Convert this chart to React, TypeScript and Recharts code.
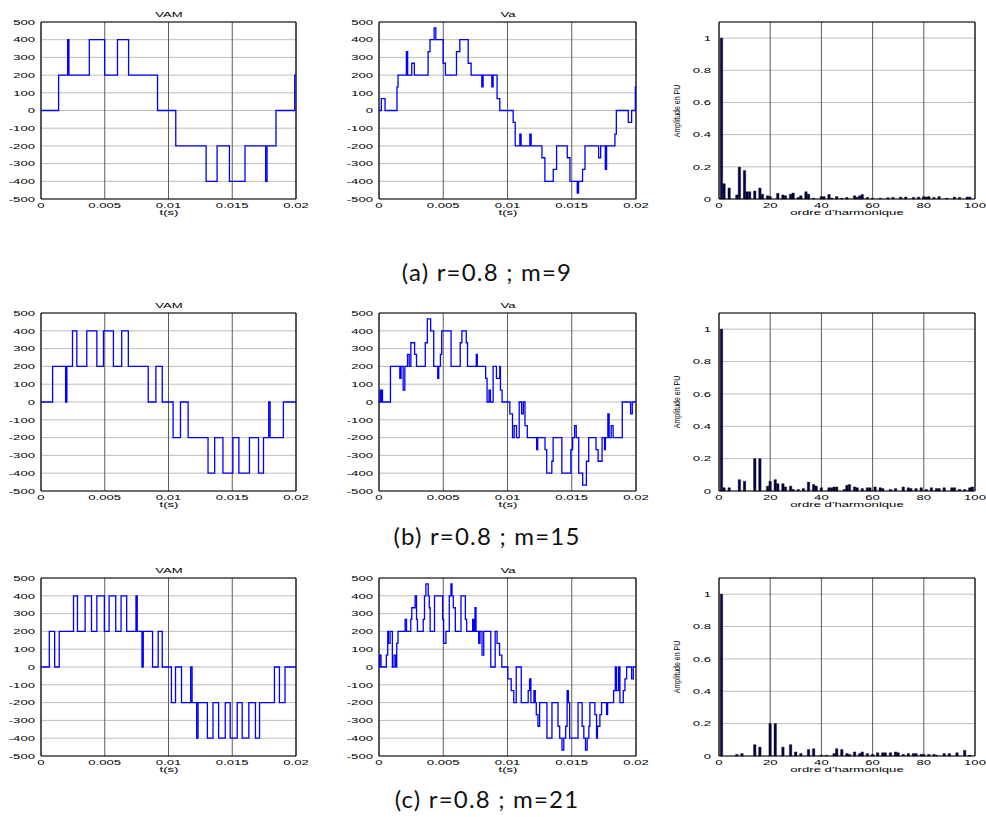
import React from 'react'
import { LineChart, Line, BarChart, Bar, XAxis, YAxis, CartesianGrid, ReferenceArea } from 'recharts'

// time axis in ms -> converted to s when building rows
const T_TICKS = [0, 0.005, 0.01, 0.015, 0.02]
const V_TICKS = [-500, -400, -300, -200, -100, 0, 100, 200, 300, 400, 500]
const H_TICKS = [0, 20, 40, 60, 80, 100]
const A_TICKS = [0, 0.2, 0.4, 0.6, 0.8, 1]

const CAPTIONS = ['(a) r=0.8 ; m=9', '(b) r=0.8 ; m=15', '(c) r=0.8 ; m=21']

// [t (ms), level (V)] step points
const vamA: [number, number][] = [
  [0, 0], [1.38, 200], [2.09, 400], [2.19, 200], [3.79, 400], [4.99, 200], [6.0, 400], [6.87, 200],
  [9.14, 0], [10.57, -200], [12.95, -400], [13.81, -200], [14.78, -400], [16.0, -200], [17.62, -400],
  [17.73, -200], [18.43, 0], [19.9, 200], [20, 200],
]
const vaA: [number, number][] = [
  [0, 0], [0.18, 67], [0.47, 0], [1.4, 133], [1.48, 200], [2.13, 333], [2.23, 200], [2.55, 267], [2.75, 200],
  [3.82, 333], [3.97, 400], [4.29, 467], [4.42, 400], [4.99, 267], [5.17, 200], [6.03, 333], [6.29, 400],
  [6.94, 267], [7.17, 200], [8.0, 133], [8.1, 200], [8.78, 133], [8.88, 200], [9.19, 67], [9.4, 0],
  [10.44, -67], [10.6, -200], [10.96, -133], [11.06, -200], [11.74, -133], [11.84, -200], [12.68, -267],
  [12.91, -400], [13.56, -333], [13.82, -200], [14.65, -267], [14.86, -400], [15.43, -467], [15.53, -400],
  [15.84, -333], [16.03, -200], [17.09, -267], [17.25, -200], [17.61, -333], [17.71, -200], [18.36, -133],
  [18.47, 0], [19.4, -67], [19.66, 0], [19.95, 133], [20, 133],
]
const vamB: [number, number][] = [
  [0, 0], [0.91, 200], [1.93, 0], [2.03, 200], [2.47, 400], [2.81, 200], [3.59, 400], [4.38, 200], [4.9, 400],
  [5.68, 200], [6.33, 400], [6.85, 200], [8.41, 0], [9.01, 200], [9.51, 0], [10.36, -200], [10.94, 0],
  [11.54, -200], [13.1, -400], [13.62, -200], [14.27, -400], [15.05, -200], [15.52, -400], [16.35, -200],
  [17.06, -400], [17.45, -200], [17.86, 0], [17.97, -200], [19.01, 0], [20, 0],
]
const vaB: [number, number][] = [
  [0, 0], [0.08, 67], [0.15, 0], [0.2, 67], [0.27, 0], [0.89, 200], [1.62, 133], [1.72, 200], [1.88, 67],
  [2.01, 200], [2.22, 267], [2.35, 200], [2.48, 333], [2.77, 267], [2.92, 200], [3.6, 333], [3.76, 467],
  [4.02, 400], [4.26, 200], [4.57, 133], [4.65, 200], [4.78, 267], [4.88, 400], [5.61, 200], [6.32, 333],
  [6.45, 400], [6.79, 333], [6.89, 200], [7.57, 267], [7.65, 200], [8.3, 133], [8.41, 0], [8.56, 67],
  [8.67, 0], [8.88, 200], [9.14, 133], [9.4, 200], [9.45, 67], [9.58, 0], [10.18, -67], [10.39, -200],
  [10.52, -133], [10.7, -200], [10.91, 0], [11.1, -67], [11.23, 0], [11.36, -133], [11.54, -200],
  [12.27, -267], [12.35, -200], [12.92, -267], [13.05, -400], [13.45, -333], [13.55, -200], [14.23, -400],
  [14.93, -267], [15.07, -200], [15.22, -133], [15.35, -200], [15.54, -400], [15.85, -467], [16.14, -333],
  [16.32, -200], [16.89, -267], [17.05, -333], [17.36, -200], [17.55, -267], [17.62, -200], [17.81, -67],
  [17.91, -200], [18.07, -133], [18.22, -200], [18.93, 0], [19.58, -67], [19.71, 0], [20, 0],
]
const vamC: [number, number][] = [
  [0, 0], [0.65, 200], [1.07, 0], [1.43, 200], [2.55, 400], [2.86, 200], [3.46, 400], [3.96, 200], [4.38, 400],
  [4.97, 200], [5.34, 400], [5.86, 200], [6.28, 400], [6.72, 200], [7.45, 400], [7.55, 200], [7.92, 0],
  [8.02, 200], [8.75, 0], [9.19, 200], [9.51, 0], [10.23, -200], [10.55, 0], [11.02, -200], [11.74, 0],
  [11.85, -200], [12.21, -400], [12.32, -200], [13.05, -400], [13.49, -200], [13.93, -400], [14.45, -200],
  [14.84, -400], [15.39, -200], [15.78, -400], [16.3, -200], [16.82, -400], [17.14, -200], [18.31, 0],
  [18.7, -200], [19.14, 0], [20, 0],
]
const vaC: [number, number][] = [
  [0, 0], [0.05, 67], [0.16, 0], [0.57, 67], [0.68, 200], [0.73, 133], [0.86, 200], [1.04, 0], [1.17, 67],
  [1.3, 0], [1.38, 133], [1.48, 200], [2.03, 267], [2.14, 200], [2.47, 267], [2.55, 333], [2.81, 400],
  [2.92, 267], [2.99, 200], [3.44, 267], [3.54, 400], [3.65, 467], [3.83, 400], [3.91, 333], [3.98, 200],
  [4.32, 400], [4.95, 267], [5.03, 133], [5.21, 200], [5.47, 400], [5.6, 467], [5.68, 400], [5.78, 333],
  [5.94, 200], [6.38, 400], [6.72, 267], [6.82, 200], [7.29, 267], [7.37, 200], [7.47, 333], [7.55, 200],
  [7.76, 133], [7.86, 200], [8.02, 67], [8.15, 200], [8.7, 0], [9.04, 200], [9.19, 133], [9.38, 67],
  [9.56, 0], [10.03, -67], [10.29, -133], [10.49, -200], [10.68, 0], [11.07, -200], [11.61, -133],
  [11.72, -67], [11.82, -200], [12.06, -133], [12.16, -200], [12.24, -267], [12.37, -333], [12.5, -200],
  [13.07, -400], [13.46, -200], [13.93, -333], [14.06, -400], [14.24, -467], [14.38, -400], [14.53, -333],
  [14.64, -133], [14.74, -200], [14.84, -400], [15.49, -200], [15.81, -333], [15.94, -400], [16.07, -467],
  [16.2, -400], [16.33, -333], [16.41, -200], [16.8, -267], [16.93, -400], [17.0, -333], [17.19, -267],
  [17.32, -200], [17.71, -267], [17.79, -200], [18.26, -133], [18.39, 0], [18.49, -133], [18.65, 0],
  [18.75, -200], [19.01, -133], [19.14, -67], [19.27, 0], [19.66, -67], [19.79, 0], [20, 0],
]

// [harmonic order, amplitude (pu)]
const harmA: [number, number][] = [
  [1, 1], [2, 0.095], [4, 0.068], [7, 0.025], [8, 0.198], [10, 0.177], [11, 0.045], [12, 0.045], [14, 0.05],
  [16, 0.068], [17, 0.03], [19, 0.02], [20, 0.015], [23, 0.035], [25, 0.025], [26, 0.02], [28, 0.03],
  [29, 0.037], [31, 0.01], [32, 0.02], [34, 0.045], [35, 0.03], [37, 0.005], [40, 0.015], [41, 0.015],
  [43, 0.028], [44, 0.005], [46, 0.015], [48, 0.005], [50, 0.01], [53, 0.02], [54, 0.01], [55, 0.02],
  [56, 0.028], [58, 0.01], [60, 0.005], [63, 0.005], [66, 0.008], [68, 0.01], [71, 0.012], [73, 0.012],
  [76, 0.01], [78, 0.012], [80, 0.015], [81, 0.012], [82, 0.015], [84, 0.01], [86, 0.015], [89, 0.005],
  [92, 0.012], [94, 0.01], [97, 0.012], [98, 0.012],
]
const harmB: [number, number][] = [
  [1, 1], [2, 0.02], [4, 0.02], [8, 0.07], [10, 0.06], [14, 0.2], [16, 0.2], [19, 0.03], [20, 0.06], [22, 0.07],
  [23, 0.045], [25, 0.045], [26, 0.025], [28, 0.03], [29, 0.01], [31, 0.01], [33, 0.015], [35, 0.055],
  [37, 0.04], [38, 0.03], [40, 0.02], [43, 0.02], [44, 0.02], [45, 0.025], [46, 0.025], [49, 0.01],
  [50, 0.035], [51, 0.04], [53, 0.025], [54, 0.02], [56, 0.015], [58, 0.02], [59, 0.02], [61, 0.025],
  [63, 0.02], [64, 0.015], [67, 0.01], [69, 0.015], [72, 0.025], [74, 0.02], [75, 0.015], [77, 0.015],
  [79, 0.02], [81, 0.01], [83, 0.02], [85, 0.015], [86, 0.015], [88, 0.02], [91, 0.02], [92, 0.02],
  [94, 0.01], [96, 0.01], [98, 0.02], [99, 0.025],
]
const harmC: [number, number][] = [
  [1, 1], [7, 0.01], [9, 0.015], [14, 0.07], [16, 0.055], [20, 0.2], [22, 0.2], [25, 0.055], [28, 0.07],
  [30, 0.025], [32, 0.015], [35, 0.04], [37, 0.045], [40, 0.005], [42, 0.005], [45, 0.015], [46, 0.045],
  [48, 0.04], [50, 0.015], [51, 0.01], [53, 0.025], [55, 0.015], [56, 0.025], [58, 0.015], [60, 0.01],
  [62, 0.02], [64, 0.02], [65, 0.02], [67, 0.02], [69, 0.025], [70, 0.02], [72, 0.01], [74, 0.015],
  [76, 0.015], [77, 0.015], [79, 0.01], [80, 0.01], [82, 0.01], [84, 0.01], [85, 0.005], [88, 0.015],
  [90, 0.015], [93, 0.02], [96, 0.035], [98, 0.005],
]

// layout of the axes boxes on the page
const COLS = [{ left: 41, width: 255 }, { left: 379, width: 257 }, { left: 719, width: 256 }]
const ROWS = [{ top: 22, height: 177 }, { top: 313, height: 178 }, { top: 578, height: 178 }]
const PL = 50, PT = 6, PR = 24, PB = 26
const FONT = "'Liberation Sans', Arial, Helvetica, sans-serif"

function TickText(props: any) {
  const { x, y, payload, textAnchor, side } = props
  const dy = side === 'left' ? 2.7 : 5.5
  return (
    <text transform={`translate(${x},${y + dy}) scale(1.75,1)`} textAnchor={textAnchor}
      fontSize={7.5} fontFamily={FONT} fill="#000">{payload.value}</text>
  )
}

function Stretch({ x, y, children }: { x: number; y: number; children: React.ReactNode }) {
  return (
    <div style={{
      position: 'absolute', left: x, top: y, fontSize: 7.5, lineHeight: 1, fontFamily: FONT,
      whiteSpace: 'nowrap', color: '#000', transform: 'translateX(-50%) scaleX(1.75)',
    }}>{children}</div>
  )
}

function WavePanel({ col, row, title, pts }: { col: number; row: number; title: string; pts: [number, number][] }) {
  const data = pts.map(([ms, v]) => ({ t: ms / 1000, v }))
  const c = COLS[col], r = ROWS[row]
  return (
    <>
      <div style={{ position: 'absolute', left: c.left - PL, top: r.top - PT }}>
        <LineChart width={PL + c.width + PR} height={PT + r.height + PB} data={data}
          margin={{ top: PT, right: PR, bottom: 0, left: 0 }}>
          <CartesianGrid vertical={false} stroke="#bdbdbd" />
          <CartesianGrid horizontal={false} stroke="#5c5c5c" />
          <XAxis type="number" dataKey="t" domain={[0, 0.02]} ticks={T_TICKS} interval={0} height={PB}
            axisLine={false} tickLine={false} tickSize={2} tickMargin={1}
            tick={(p: any) => <TickText {...p} side="bottom" />} />
          <YAxis type="number" domain={[-500, 500]} ticks={V_TICKS} interval={0} width={PL}
            axisLine={false} tickLine={false} tickSize={4} tickMargin={2}
            tick={(p: any) => <TickText {...p} side="left" />} />
          <ReferenceArea x1={0} x2={0.02} y1={-500} y2={500} fill="none" stroke="#000" strokeWidth={1} />
          <Line type="stepAfter" dataKey="v" stroke="#0000ff" strokeWidth={1.3} dot={false} isAnimationActive={false} />
        </LineChart>
      </div>
      <Stretch x={c.left + c.width / 2} y={r.top - 11}>{title}</Stretch>
      <Stretch x={c.left + c.width / 2} y={r.top + r.height + 10}>t(s)</Stretch>
    </>
  )
}

function HarmPanel({ row, pts }: { row: number; pts: [number, number][] }) {
  const data = pts.map(([h, a]) => ({ h, a }))
  const c = COLS[2], r = ROWS[row]
  return (
    <>
      <div style={{ position: 'absolute', left: c.left - PL, top: r.top - PT }}>
        <BarChart width={PL + c.width + PR} height={PT + r.height + PB} data={data}
          margin={{ top: PT, right: PR, bottom: 0, left: 0 }}>
          <CartesianGrid vertical={false} stroke="#bdbdbd" />
          <CartesianGrid horizontal={false} stroke="#5c5c5c" />
          <XAxis type="number" dataKey="h" domain={[0, 100]} ticks={H_TICKS} interval={0} height={PB}
            axisLine={false} tickLine={false} tickSize={2} tickMargin={1}
            tick={(p: any) => <TickText {...p} side="bottom" />} />
          <YAxis type="number" domain={[0, 1.1]} ticks={A_TICKS} interval={0} width={PL}
            axisLine={false} tickLine={false} tickSize={4} tickMargin={4}
            tick={(p: any) => <TickText {...p} side="left" />} />
          <ReferenceArea x1={0} x2={100} y1={0} y2={1.1} fill="none" stroke="#000" strokeWidth={1} />
          <Bar dataKey="a" fill="#00004a" stroke="#000" strokeWidth={0.4} barSize={2.4} isAnimationActive={false} />
        </BarChart>
      </div>
      <div style={{
        position: 'absolute', left: c.left - 42, top: r.top + r.height / 2, fontSize: 7, lineHeight: 1,
        fontFamily: FONT, whiteSpace: 'nowrap', color: '#000',
        transform: 'translate(-50%,-50%) scaleX(1.35) rotate(-90deg)',
      }}>Amplitude en PU</div>
      <Stretch x={c.left + c.width / 2} y={r.top + r.height + 10}>ordre d'harmonique</Stretch>
    </>
  )
}

const CAPTION_TOPS = [260, 524, 787]

export default function App() {
  const waves = [[vamA, vaA], [vamB, vaB], [vamC, vaC]]
  const harms = [harmA, harmB, harmC]
  return (
    <div style={{ position: 'absolute', left: 0, top: 0, width: 986, height: 817, background: '#fff', overflow: 'hidden' }}>
      {waves.map(([vam, va], i) => (
        <React.Fragment key={i}>
          <WavePanel col={0} row={i} title="VAM" pts={vam} />
          <WavePanel col={1} row={i} title="Va" pts={va} />
          <HarmPanel row={i} pts={harms[i]} />
          <div style={{
            position: 'absolute', left: 287, width: 400, top: CAPTION_TOPS[i], textAlign: 'center',
            fontFamily: "Lato, 'Open Sans', sans-serif", fontSize: 24, letterSpacing: 1.2, lineHeight: 1, color: '#111',
          }}>{CAPTIONS[i]}</div>
        </React.Fragment>
      ))}
    </div>
  )
}
